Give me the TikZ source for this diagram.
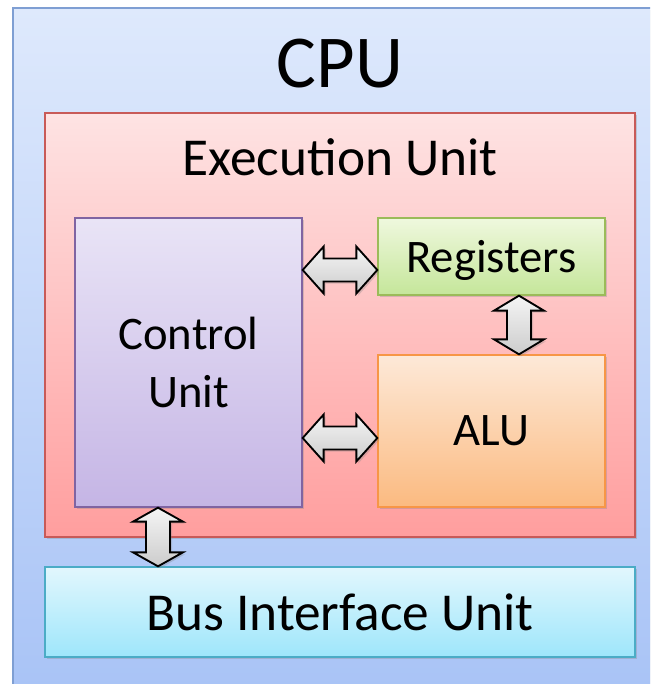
\documentclass[tikz,border=0pt]{standalone}
\usepackage{fontspec}
\setmainfont{Carlito}
\usetikzlibrary{calc,shadows}
\definecolor{cputop}{HTML}{DEE9FC}
\definecolor{cpubot}{HTML}{A8C3F6}
\definecolor{cpuline}{HTML}{7F9FD3}
\definecolor{extop}{HTML}{FEE3E3}
\definecolor{exbot}{HTML}{FF9E9E}
\definecolor{exline}{HTML}{C85A58}
\definecolor{cutop}{HTML}{E9E4F6}
\definecolor{cubot}{HTML}{C5B5E5}
\definecolor{culine}{HTML}{8064A2}
\definecolor{regtop}{HTML}{EFF8DE}
\definecolor{regbot}{HTML}{C5E69A}
\definecolor{regline}{HTML}{9BBB59}
\definecolor{alutop}{HTML}{FDE9D8}
\definecolor{alubot}{HTML}{FBBA80}
\definecolor{aluline}{HTML}{F79646}
\definecolor{biutop}{HTML}{E2F7FD}
\definecolor{biubot}{HTML}{9EE6FB}
\definecolor{biuline}{HTML}{4BACC6}
\def\px{0.75pt}
\tikzset{unit/.style={rectangle, inner sep=0pt, line width=1pt, align=center,
    font=\fontsize{35}{43}\selectfont,
    drop shadow={opacity=0.3, shadow xshift=1.5pt, shadow yshift=-1.5pt}},
  bigarrow/.style={draw=black, line width=1.4pt, line join=miter, top color=gray!8, bottom color=gray!40,
    drop shadow={opacity=0.3, shadow xshift=1.5pt, shadow yshift=-1.5pt}}}
% block double arrows: tip, tip, head length
\newcommand\harrow[3]{\draw[bigarrow] (#1) -- ++(#3,-23.5) -- ++(0,12) -- ($(#2)+(-#3,-11.5)$) -- ++(0,-12) -- (#2)
  -- ++(-#3,23.5) -- ++(0,-12) -- ($(#1)+(#3,11.5)$) -- ++(0,12) -- cycle;}
\newcommand\varrow[3]{\draw[bigarrow] (#1) -- ++(25,#3) -- ++(-13,0) -- ($(#2)+(12,-#3)$) -- ++(13,0) -- (#2)
  -- ++(-25,-#3) -- ++(13,0) -- ($(#1)+(-12,#3)$) -- ++(-13,0) -- cycle;}

\begin{document}
\begin{tikzpicture}[x=0.75pt,y=-0.75pt]
  \useasboundingbox (0,0) rectangle (650,684);
  \clip (0,0) rectangle (650,684);
  \node[unit, draw=cpuline, top color=cputop, bottom color=cpubot, minimum width=647*\px, minimum height=692*\px] (cpu) at (336.5,354) {};
  \node[font=\fontsize{56}{60}\selectfont] (cputitle) at (340,64) {CPU};
  \node[unit, draw=exline, top color=extop, bottom color=exbot, minimum width=590*\px, minimum height=424*\px] (exec) at (340,325) {};
  \node[font=\fontsize{40}{44}\selectfont] (exectitle) at (340,157) {Execution Unit};
  \node[unit, draw=culine, top color=cutop, bottom color=cubot, minimum width=227*\px, minimum height=289*\px] (ctrl) at (188.5,362.5) {Control\\Unit};
  \node[unit, draw=regline, top color=regtop, bottom color=regbot, minimum width=227*\px, minimum height=77*\px, text depth=0pt] (reg) at (491.5,256.5) {Registers};
  \node[unit, draw=aluline, top color=alutop, bottom color=alubot, minimum width=227*\px, minimum height=152*\px] (alu) at (491.5,431) {ALU};
  \node[unit, draw=biuline, top color=biutop, bottom color=biubot, minimum width=590*\px, minimum height=90*\px, font=\fontsize{40}{44}\selectfont] (biu) at (340,612) {Bus Interface Unit};
  \coordinate (y1) at (0,270);
  \coordinate (y2) at (0,438);
  \coordinate (x1) at (519,0);
  \coordinate (x2) at (158,0);
  \harrow{ctrl.east |- y1}{reg.west |- y1}{21}
  \harrow{ctrl.east |- y2}{alu.west |- y2}{21}
  \varrow{x1 |- reg.south}{x1 |- alu.north}{15}
  \varrow{x2 |- ctrl.south}{x2 |- biu.north}{14}
\end{tikzpicture}
\end{document}
